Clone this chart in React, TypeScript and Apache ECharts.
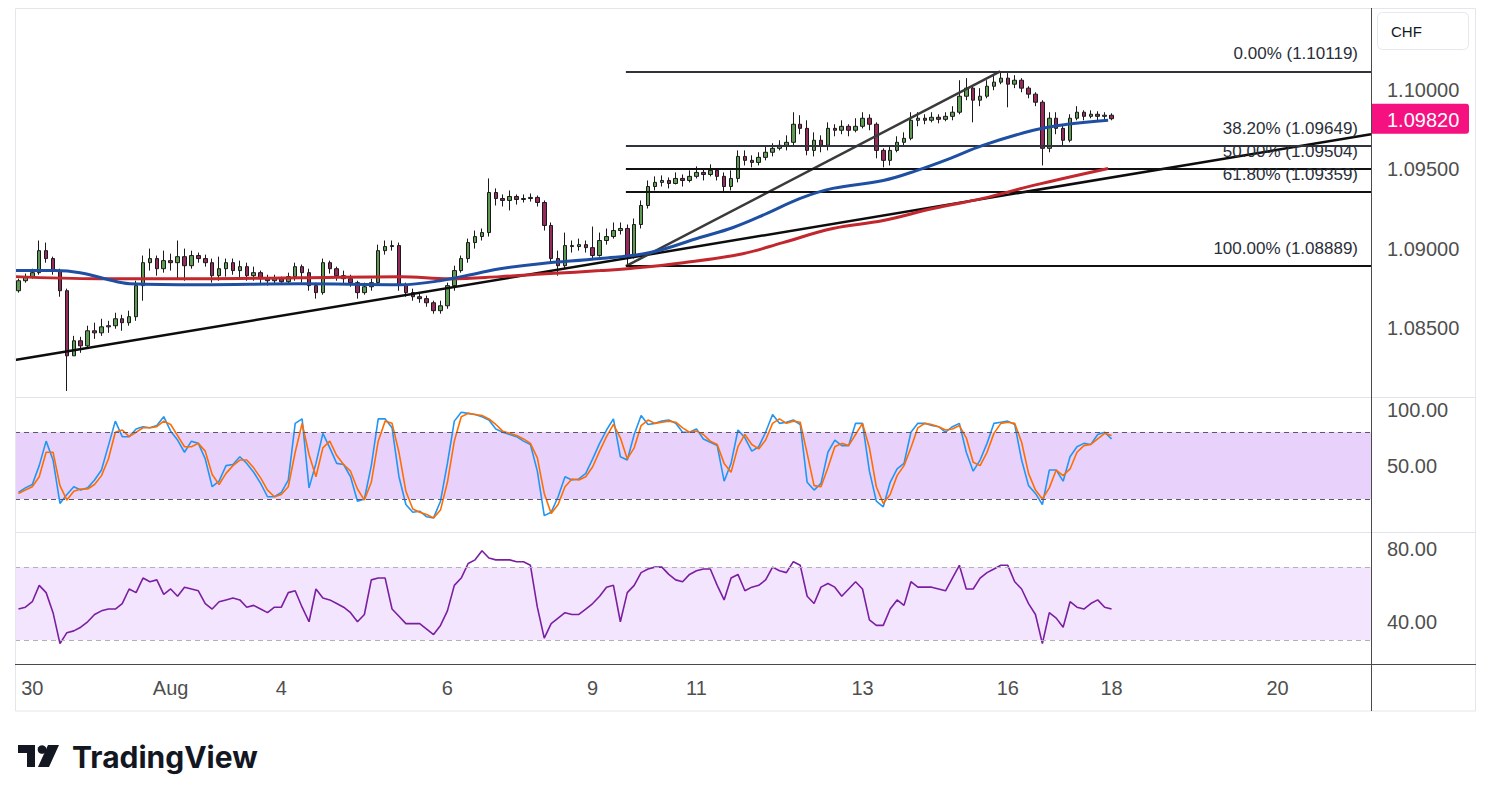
import React, { useEffect, useRef } from 'react';
import * as echarts from 'echarts';

const OPEN0 = 1.08734;
const closes = [
1.08797,1.08823,1.08848,1.08987,1.08937,1.08861,1.08734,1.08323,1.08418,1.08386,
1.08481,1.08468,1.08506,1.08513,1.08557,1.08532,1.08570,1.08766,1.08911,1.08937,
1.08873,1.08924,1.08911,1.08949,1.08892,1.08956,1.08937,1.08911,1.08829,1.08873,
1.08911,1.08861,1.08886,1.08829,1.08848,1.08810,1.08797,1.08810,1.08791,1.08823,
1.08886,1.08848,1.08766,1.08722,1.08911,1.08873,1.08829,1.08810,1.08785,1.08722,
1.08759,1.08785,1.08987,1.09013,1.09019,1.08772,1.08722,1.08696,1.08684,1.08658,
1.08608,1.08639,1.08766,1.08861,1.08937,1.09038,1.09076,1.09101,1.09354,1.09316,
1.09304,1.09329,1.09310,1.09316,1.09323,1.09291,1.09146,1.08937,1.08892,1.09019,
1.09013,1.09025,1.09006,1.08956,1.09051,1.09076,1.09114,1.09127,1.08949,1.09152,
1.09272,1.09392,1.09418,1.09430,1.09411,1.09443,1.09430,1.09456,1.09481,1.09468,
1.09494,1.09456,1.09392,1.09443,1.09582,1.09557,1.09544,1.09576,1.09608,1.09633,
1.09652,1.09671,1.09785,1.09759,1.09620,1.09684,1.09652,1.09759,1.09747,1.09772,
1.09747,1.09772,1.09823,1.09785,1.09620,1.09557,1.09620,1.09671,1.09696,1.09810,
1.09823,1.09810,1.09829,1.09816,1.09835,1.09861,1.09962,1.10013,1.09937,1.09962,
1.10025,1.10051,1.10076,1.10038,1.10063,1.10013,1.09975,1.09924,1.09633,1.09823,
1.09759,1.09684,1.09823,1.09861,1.09835,1.09848,1.09835,1.09842,1.09820];

const highs = [
1.08810,1.08842,1.08873,1.09051,1.09038,1.08949,1.08873,1.08747,1.08449,1.08443,
1.08513,1.08532,1.08557,1.08544,1.08595,1.08582,1.08608,1.08797,1.08956,1.09000,
1.08956,1.08987,1.08968,1.09051,1.09000,1.08987,1.08975,1.08962,1.08937,1.08949,
1.08937,1.08937,1.08924,1.08911,1.08886,1.08861,1.08835,1.08835,1.08823,1.08848,
1.08911,1.08899,1.08873,1.08785,1.08937,1.08924,1.08886,1.08861,1.08835,1.08797,
1.08785,1.08810,1.09025,1.09051,1.09051,1.09038,1.08785,1.08747,1.08722,1.08703,
1.08671,1.08671,1.08785,1.08892,1.08956,1.09063,1.09114,1.09127,1.09443,1.09380,
1.09342,1.09367,1.09342,1.09342,1.09348,1.09335,1.09304,1.09165,1.08987,1.09101,
1.09051,1.09063,1.09051,1.09139,1.09101,1.09127,1.09165,1.09165,1.09152,1.09190,
1.09304,1.09430,1.09456,1.09462,1.09449,1.09481,1.09468,1.09494,1.09519,1.09506,
1.09532,1.09506,1.09481,1.09494,1.09620,1.09620,1.09589,1.09608,1.09646,1.09665,
1.09684,1.09715,1.09861,1.09842,1.09810,1.09734,1.09715,1.09797,1.09785,1.09810,
1.09785,1.09823,1.09861,1.09848,1.09797,1.09633,1.09652,1.09709,1.09734,1.09861,
1.09861,1.09848,1.09861,1.09848,1.09861,1.09899,1.10063,1.10076,1.10025,1.10013,
1.10063,1.10089,1.10119,1.10108,1.10095,1.10076,1.10025,1.09987,1.09937,1.09861,
1.09861,1.09785,1.09848,1.09899,1.09873,1.09873,1.09867,1.09861,1.09854];

const lows = [
1.08722,1.08785,1.08810,1.08835,1.08911,1.08835,1.08696,1.08101,1.08342,1.08342,
1.08367,1.08430,1.08449,1.08468,1.08494,1.08481,1.08513,1.08544,1.08671,1.08861,
1.08829,1.08848,1.08861,1.08810,1.08797,1.08873,1.08911,1.08886,1.08785,1.08797,
1.08823,1.08835,1.08810,1.08797,1.08797,1.08778,1.08766,1.08778,1.08772,1.08778,
1.08797,1.08785,1.08734,1.08684,1.08709,1.08842,1.08797,1.08772,1.08759,1.08684,
1.08709,1.08734,1.08766,1.08962,1.08987,1.08734,1.08696,1.08671,1.08658,1.08633,
1.08589,1.08589,1.08620,1.08734,1.08848,1.08911,1.09000,1.09051,1.09076,1.09272,
1.09266,1.09241,1.09278,1.09291,1.09297,1.09266,1.09114,1.08911,1.08829,1.08873,
1.08975,1.08987,1.08975,1.08937,1.08949,1.09025,1.09063,1.09089,1.08889,1.08937,
1.09127,1.09253,1.09367,1.09392,1.09380,1.09405,1.09392,1.09418,1.09443,1.09430,
1.09456,1.09430,1.09354,1.09367,1.09418,1.09525,1.09513,1.09525,1.09557,1.09582,
1.09620,1.09620,1.09652,1.09722,1.09589,1.09582,1.09608,1.09620,1.09709,1.09722,
1.09709,1.09734,1.09759,1.09747,1.09570,1.09513,1.09525,1.09608,1.09646,1.09684,
1.09772,1.09785,1.09797,1.09791,1.09804,1.09810,1.09848,1.09937,1.09797,1.09899,
1.09949,1.10000,1.10038,1.09892,1.10013,1.09987,1.09949,1.09899,1.09525,1.09608,
1.09722,1.09652,1.09671,1.09810,1.09810,1.09823,1.09810,1.09810,1.09810];

const stochK = [
26,30,33,50,72,55,16,24,31,28,
30,37,46,68,90,76,76,83,85,84,
86,94,81,73,62,72,70,56,31,36,
50,51,58,52,44,34,22,22,26,37,
88,92,30,52,79,66,52,51,40,18,
20,50,92,92,84,40,15,8,9,4,
3,18,52,90,98,97,96,94,91,83,
80,78,76,72,69,45,5,8,22,40,
37,38,43,56,70,82,92,58,55,78,
95,87,88,90,91,88,80,80,83,74,
71,68,36,52,82,75,63,67,80,96,
88,89,91,87,35,28,34,62,73,68,
68,88,88,45,18,13,35,47,52,80,
88,88,86,85,80,85,88,62,45,55,
70,88,89,90,87,55,32,25,15,46,
46,36,58,67,70,69,78,80,74];

const stochD = [
25,28,31,40,62,62,32,19,27,29,
29,33,41,56,80,82,76,80,84,84,
85,90,87,77,67,67,70,63,42,33,
43,50,55,55,48,39,28,22,24,31,
62,88,60,40,66,72,59,51,45,29,
19,35,72,90,88,62,27,11,8,6,
3,10,35,72,94,97,96,95,92,87,
81,79,77,74,70,57,25,7,15,31,
38,37,40,49,63,76,87,75,56,66,
86,91,88,89,90,89,84,80,81,78,
72,69,52,44,67,78,69,65,73,88,
92,88,90,89,61,32,31,48,67,70,
68,78,88,66,31,16,24,41,50,66,
84,88,87,85,82,83,86,75,53,50,
62,79,88,89,88,71,43,28,20,30,
46,41,47,62,68,69,74,79,77];

const rsi = [
47,48,51,60,56,45,28,34,35,37,
40,44,46,47,47,50,58,56,64,62,
63,55,58,54,59,58,57,50,47,51,
52,53,52,48,49,47,45,48,48,56,
57,48,40,58,53,52,50,48,45,40,
44,63,64,64,47,43,39,39,39,36,
33,38,46,60,64,72,74,79,75,74,
74,74,73,73,71,48,31,39,42,45,
44,44,47,50,54,59,60,40,56,60,
67,69,70,70,66,63,62,66,68,69,
69,60,52,64,66,57,59,60,63,70,
68,67,73,71,54,50,59,61,59,54,
58,62,58,41,38,38,47,52,49,62,
59,59,59,58,57,64,71,58,58,64,
67,69,71,71,62,58,50,44,28,45,
42,37,51,48,47,50,52,48,47];

const blueMA = [
[-0.5,1.08861],[5.3,1.08861],[8.9,1.08848],[12.5,1.08810],[16.1,1.08778],[26.2,1.08772],
[40.7,1.08778],[55.2,1.08772],[60.9,1.08797],[66.7,1.08848],[69.6,1.08873],[75.4,1.08905],
[84.1,1.08937],[91.3,1.08975],[98.5,1.09070],[103.3,1.09133],[108.2,1.09222],[113,1.09317],
[117.7,1.09380],[125,1.09430],[129.9,1.09494],[134.7,1.09570],[139.4,1.09652],[146.7,1.09747],
[151.6,1.09785],[157.5,1.09810]];

const redMA = [
[-0.5,1.08823],[11.8,1.08810],[26.2,1.08810],[40.7,1.08816],[55.2,1.08823],[62.4,1.08810],
[69.6,1.08823],[76.8,1.08842],[84.1,1.08861],[88,1.08873],[96.1,1.08911],[104.7,1.08968],
[110.5,1.09038],[117.7,1.09127],[125,1.09177],[132.2,1.09253],[139.4,1.09317],[146.7,1.09399],
[157.5,1.09506]];

const fibPct = ['0.00%', '38.20%', '50.00%', '61.80%', '100.00%'];
const fibValues = [1.10119, 1.09649, 1.09504, 1.09359, 1.08889];
const fibColors = ['#30333b', '#30333b', '#111111', '#111111', '#111111'];
const fibStartIdx = 87.8;
const trendMain = [[-0.5, 1.08296], [195.5, 1.09722]];
const trendFib = [[87.8, 1.08889], [141.9, 1.10119]];

const xTickIdx = [2, 22, 38, 62, 83, 98, 122, 143, 158, 182];
const xTickText = ['30', 'Aug', '4', '6', '9', '11', '13', '16', '18', '20'];
const priceTicks = [1.085, 1.09, 1.095, 1.1];
const stochTicks = [50, 100];
const rsiTicks = [40, 80];
const lastPrice = 1.0982;
const N_SLOTS = 196;

const FONT = "'Liberation Sans', Arial, sans-serif";

export default function App() {
  const ref = useRef<HTMLDivElement>(null);
  useEffect(() => {
    document.body.style.margin = '0';
    document.body.style.overflow = 'hidden';
    const chart = echarts.init(ref.current!, undefined, { renderer: 'svg' });
    const cats = Array.from({ length: N_SLOTS }, (_, i) => String(i));
    const candles = closes.map((c, i) => {
      const o = i === 0 ? OPEN0 : closes[i - 1];
      return [o, c, Math.min(lows[i], o, c), Math.max(highs[i], o, c)];
    });
    const tickMap = new Map<number, string>();
    xTickIdx.forEach((idx, k) => tickMap.set(idx, xTickText[k]));

    const yLabel = (digits: number, vals: number[]) => ({
      customValues: vals,
      formatter: (v: number) => v.toFixed(digits),
      color: '#4f4f4f',
      fontSize: 20,
      fontFamily: FONT,
      margin: 16,
      align: 'left',
    });
    const hiddenAxisParts = {
      axisLine: { show: false },
      axisTick: { show: false },
      splitLine: { show: false },
    };

    const fibMarks = fibValues.map((v, k) => [
      {
        coord: [fibStartIdx, v],
        lineStyle: { color: fibColors[k], width: 2, type: 'solid' },
        label: {
          show: true,
          position: 'insideEndTop',
          formatter: `${fibPct[k]} (${v.toFixed(5)})`,
          color: '#2a2e39',
          fontSize: 17,
          fontFamily: FONT,
          distance: [13, 9],
        },
      },
      { coord: [195.5, v] },
    ]);

    const option: any = {
      animation: false,
      backgroundColor: '#ffffff',
      grid: [
        { left: 15, top: 8, width: 1356, height: 389 },
        { left: 15, top: 397, width: 1356, height: 135 },
        { left: 15, top: 532, width: 1356, height: 132 },
      ],
      xAxis: [
        { type: 'category', gridIndex: 0, data: cats, boundaryGap: true, show: false },
        { type: 'value', gridIndex: 0, min: -0.5, max: 195.5, show: false },
        { type: 'category', gridIndex: 1, data: cats, boundaryGap: true, show: false },
        {
          type: 'category', gridIndex: 2, data: cats, boundaryGap: true,
          ...hiddenAxisParts,
          axisLabel: {
            interval: (i: number) => tickMap.has(i),
            formatter: (val: string) => tickMap.get(parseInt(val, 10)) || '',
            color: '#4f4f4f', fontSize: 20, fontFamily: FONT, margin: 14,
          },
        },
      ],
      yAxis: [
        { type: 'value', gridIndex: 0, position: 'right', min: 1.08063, max: 1.10519, scale: true, ...hiddenAxisParts, axisLabel: yLabel(5, priceTicks) },
        { type: 'value', gridIndex: 1, position: 'right', min: -9.7, max: 111.7, ...hiddenAxisParts, axisLabel: yLabel(2, stochTicks) },
        { type: 'value', gridIndex: 2, position: 'right', min: 16.8, max: 89.3, ...hiddenAxisParts, axisLabel: yLabel(2, rsiTicks) },
      ],
      series: [
        {
          type: 'candlestick', xAxisIndex: 0, yAxisIndex: 0, data: candles, barWidth: 4, z: 2,
          itemStyle: { color: '#5d9b52', color0: '#962a5c', borderColor: '#1a1a1a', borderColor0: '#1a1a1a', borderWidth: 1 },
        },
        {
          type: 'line', xAxisIndex: 1, yAxisIndex: 0, data: [], z: 3,
          markLine: { silent: true, symbol: ['none', 'none'], data: fibMarks },
        },
        {
          type: 'line', xAxisIndex: 1, yAxisIndex: 0, data: trendMain, z: 4, showSymbol: false,
          lineStyle: { color: '#0d0d0d', width: 2.5 },
        },
        {
          type: 'line', xAxisIndex: 1, yAxisIndex: 0, data: trendFib, z: 4, showSymbol: false,
          lineStyle: { color: '#3a3a3a', width: 2.5 },
        },
        {
          type: 'line', xAxisIndex: 1, yAxisIndex: 0, data: redMA, z: 5, showSymbol: false, smooth: 0.4,
          lineStyle: { color: '#c2272d', width: 3 },
        },
        {
          type: 'line', xAxisIndex: 1, yAxisIndex: 0, data: blueMA, z: 5, showSymbol: false, smooth: 0.4,
          lineStyle: { color: '#1f4fa3', width: 3 },
        },
        {
          type: 'line', xAxisIndex: 2, yAxisIndex: 1, data: stochK, showSymbol: false, z: 3,
          lineStyle: { color: '#2196f3', width: 1.6 },
          markArea: { silent: true, itemStyle: { color: '#e8d2fc' }, data: [[{ yAxis: 20 }, { yAxis: 80 }]] },
          markLine: {
            silent: true, symbol: ['none', 'none'], label: { show: false },
            lineStyle: { color: '#5d5868', width: 1, type: [5, 4] },
            data: [{ yAxis: 20 }, { yAxis: 80 }],
          },
        },
        {
          type: 'line', xAxisIndex: 2, yAxisIndex: 1, data: stochD, showSymbol: false, z: 4,
          lineStyle: { color: '#ff6d00', width: 1.6 },
        },
        {
          type: 'line', xAxisIndex: 3, yAxisIndex: 2, data: rsi, showSymbol: false, z: 3,
          lineStyle: { color: '#7b1fa2', width: 1.6 },
          markArea: { silent: true, itemStyle: { color: '#f3e5fd' }, data: [[{ yAxis: 30 }, { yAxis: 70 }]] },
          markLine: {
            silent: true, symbol: ['none', 'none'], label: { show: false },
            lineStyle: { color: '#b3b0b8', width: 1, type: [5, 4] },
            data: [{ yAxis: 30 }, { yAxis: 70 }],
          },
        },
      ],
      graphic: [
        { type: 'rect', shape: { x: 15.5, y: 8.5, width: 1460, height: 702.5 }, style: { fill: 'none', stroke: '#e4e6eb', lineWidth: 1 }, silent: true, z: 10 },
        { type: 'line', shape: { x1: 15, y1: 397.5, x2: 1476, y2: 397.5 }, style: { stroke: '#e0e3eb', lineWidth: 1 }, silent: true, z: 10 },
        { type: 'line', shape: { x1: 15, y1: 532.5, x2: 1476, y2: 532.5 }, style: { stroke: '#e0e3eb', lineWidth: 1 }, silent: true, z: 10 },
        { type: 'line', shape: { x1: 15, y1: 664.5, x2: 1476, y2: 664.5 }, style: { stroke: '#4a4a4a', lineWidth: 1 }, silent: true, z: 10 },
        { type: 'line', shape: { x1: 1371.5, y1: 8, x2: 1371.5, y2: 711 }, style: { stroke: '#4a4a4a', lineWidth: 1 }, silent: true, z: 10 },
        { type: 'rect', shape: { x: 1377.5, y: 12.5, width: 91, height: 37, r: 5 }, style: { fill: '#ffffff', stroke: '#e6e8ed', lineWidth: 1 }, silent: true, z: 10 },
        { type: 'text', style: { x: 1391, y: 31, text: 'CHF', fill: '#131722', font: `15px ${FONT}`, textVerticalAlign: 'middle', verticalAlign: 'middle' }, silent: true, z: 11 },
        {
          type: 'group', silent: true, z: 11,
          children: [
            { type: 'rect', shape: { x: 18, y: 745, width: 17, height: 8 }, style: { fill: '#131722' } },
            { type: 'rect', shape: { x: 27, y: 745, width: 8, height: 22 }, style: { fill: '#131722' } },
            { type: 'circle', shape: { cx: 42, cy: 749.5, r: 4.3 }, style: { fill: '#131722' } },
            { type: 'polygon', shape: { points: [[48, 745], [59, 745], [49, 767], [38, 767]] }, style: { fill: '#131722' } },
            { type: 'text', style: { x: 72, y: 757, text: 'TradingView', fill: '#131722', font: `bold 30px Inter, ${FONT}`, textVerticalAlign: 'middle', verticalAlign: 'middle' } },
          ],
        },
      ],
    };
    chart.setOption(option);

    // price tag placed through the price axis scale
    const py = chart.convertToPixel({ yAxisIndex: 0 }, lastPrice) as number;
    chart.setOption({
      graphic: [
        ...option.graphic,
        { type: 'rect', shape: { x: 1372, y: py - 15, width: 97, height: 30, r: [0, 3, 3, 0] }, style: { fill: '#f5117f' }, silent: true, z: 12 },
        { type: 'text', style: { x: 1387, y: py + 1, text: lastPrice.toFixed(5), fill: '#ffffff', font: `20px ${FONT}`, textVerticalAlign: 'middle', verticalAlign: 'middle' }, silent: true, z: 13 },
      ],
    }, { replaceMerge: ['graphic'] });
    return () => chart.dispose();
  }, []);
  return <div ref={ref} style={{ width: 1491, height: 802 }} />;
}
